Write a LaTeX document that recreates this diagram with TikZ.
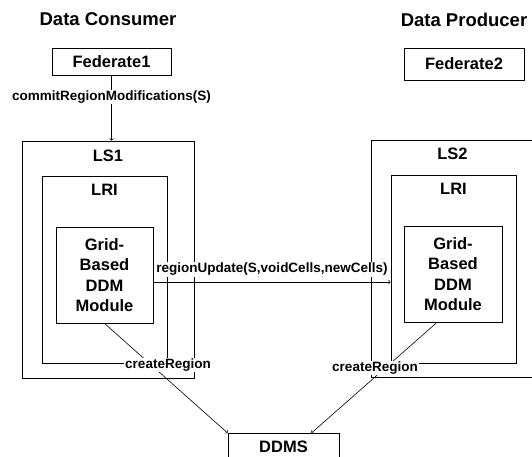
\documentclass[tikz,border=0pt]{standalone}
\usepackage{fontspec}
\setmainfont{Liberation Sans}
\usetikzlibrary{calc,positioning}
\tikzset{
    box/.style={draw=black,line width=0.8pt,inner sep=0pt},
    boxtext/.style={font=\fontsize{16.5}{20.5}\selectfont\bfseries,align=center},
    boxhead/.style={font=\fontsize{16.5}{20}\selectfont\bfseries,anchor=base},
    headline/.style={font=\fontsize{18.5}{22}\selectfont\bfseries,anchor=base},
    msg/.style={font=\fontsize{13.5}{16}\selectfont\bfseries,fill=white,inner sep=1pt},
    call/.style={->,draw=black,line width=0.6pt}
}
\begin{document}
\begin{tikzpicture}[x=1pt,y=-1pt]
\useasboundingbox (0,0) rectangle (532,457);
\clip (0,0) rectangle (532,457);
% titles
\node[headline] (consumer) at (108,26) {Data Consumer};
\node[headline] (producer) at (464,27) {Data Producer};
% federates
\node[box,boxtext,minimum width=119pt,minimum height=27pt] (fed1) at (111.5,61.5) {Federate1};
\node[box,boxtext,minimum width=120pt,minimum height=32pt] (fed2) at (464,64) {Federate2};
% LS / LRI / DDM module, consumer side
\node[box,minimum width=172pt,minimum height=237pt] (ls1) at (108,259.5) {};
\node[boxhead] (ls1head) at ([yshift=-21pt]ls1.north) {LS1};
\node[box,minimum width=125pt,minimum height=187pt] (lri1) at (104.5,269.5) {};
\node[boxhead] (lri1head) at ([yshift=-20pt]lri1.north) {LRI};
\node[box,boxtext,minimum width=97pt,minimum height=96pt] (ddm1) at (104.5,275) {Grid-\\Based\\DDM\\Module};
% LS / LRI / DDM module, producer side
\node[box,minimum width=163pt,minimum height=237pt] (ls2) at (452.5,258.5) {};
\node[boxhead] (ls2head) at ([yshift=-20pt]ls2.north) {LS2};
\node[box,minimum width=125pt,minimum height=188pt] (lri2) at (453.5,269) {};
\node[boxhead] (lri2head) at ([yshift=-20pt]lri2.north) {LRI};
\node[box,boxtext,minimum width=98pt,minimum height=96pt] (ddm2) at (453,274) {Grid-\\Based\\DDM\\Module};
% DDMS
\node[box,boxtext,minimum width=111pt,minimum height=26pt,anchor=north] (ddms) at (283.5,433) {DDMS};
% calls
\draw[call] (fed1) -- (fed1 |- ls1.north) node[msg,pos=0.33] (commitlbl) {commitRegionModifications(S)};
\coordinate (upd) at ([yshift=-7pt]ddm1.east);
\draw[call] (upd) -- (upd -| lri2.west) node[msg,midway,above=5pt] (updlbl) {regionUpdate(S,voidCells,newCells)};
\draw[call] (ddm1.south) -- (ddms.north west);
\draw[call] ([xshift=-16pt]ddm2.south) -- ($(ddms.north west)!0.75!(ddms.north east)$);
\node[msg] (createleft) at (168,365) {createRegion};
\node[msg] (createright) at (375,368) {createRegion};
\end{tikzpicture}
\end{document}
